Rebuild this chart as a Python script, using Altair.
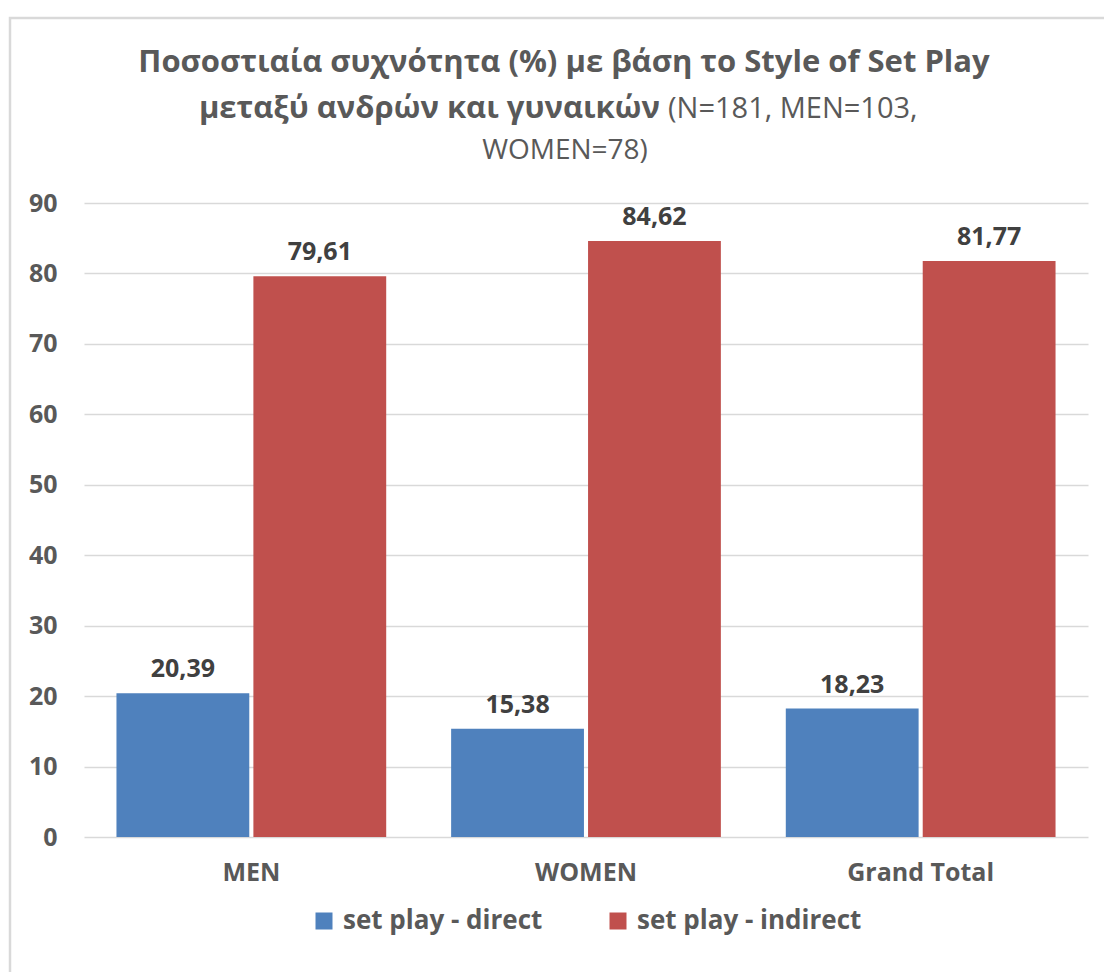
import altair as alt
import pandas as pd

categories = ["MEN", "WOMEN", "Grand Total"]
series = ["set play - direct", "set play - indirect"]
direct = [20.39, 15.38, 18.23]
indirect = [79.61, 84.62, 81.77]
direct_labels = ["20,39", "15,38", "18,23"]
indirect_labels = ["79,61", "84,62", "81,77"]
y_ticks = [0, 10, 20, 30, 40, 50, 60, 70, 80, 90]
colors = ["#4F81BD", "#C0504D"]

title_line1 = "Ποσοστιαία συχνότητα (%) με βάση το Style of Set Play"
title_line2_bold = "μεταξύ ανδρών και γυναικών"
title_line2_reg = "(N=181, MEN=103,"
title_line3 = "WOMEN=78)"

FONT = "Open Sans"
GREY = "#595959"

rows = []
for i, c in enumerate(categories):
    rows.append({"category": c, "series": series[0], "value": direct[i], "label": direct_labels[i]})
    rows.append({"category": c, "series": series[1], "value": indirect[i], "label": indirect_labels[i]})
df = pd.DataFrame(rows)

x_enc = alt.X(
    "category:N",
    sort=categories,
    scale=alt.Scale(paddingInner=0.194, paddingOuter=0.097),
    axis=alt.Axis(
        title=None, labelAngle=0, labelFont=FONT, labelFontSize=25,
        labelFontWeight="bold", labelColor=GREY, labelPadding=23,
        ticks=False, domain=False, grid=False,
    ),
)
xoff_enc = alt.XOffset("series:N", sort=series, scale=alt.Scale(paddingInner=0.03))
y_enc = alt.Y(
    "value:Q",
    scale=alt.Scale(domain=[0, 90], nice=False),
    axis=alt.Axis(
        values=y_ticks, title=None, labelFont=FONT, labelFontSize=25,
        labelFontWeight="bold", labelColor=GREY, labelPadding=27,
        ticks=False, domain=False, grid=True, gridColor="#D9D9D9", gridWidth=1.5,
    ),
)

bars = alt.Chart(df).mark_bar().encode(
    x=x_enc,
    xOffset=xoff_enc,
    y=y_enc,
    color=alt.Color(
        "series:N",
        sort=series,
        scale=alt.Scale(domain=series, range=colors),
        legend=alt.Legend(
            title=None, orient="none", legendX=227, legendY=705,
            direction="horizontal", columns=2, columnPadding=62,
            symbolType="square", symbolSize=289, symbolStrokeWidth=0,
            labelFont=FONT, labelFontSize=26, labelFontWeight="bold",
            labelColor=GREY, labelOffset=6, padding=0, labelLimit=400,
        ),
    ),
)

labels = alt.Chart(df).mark_text(
    baseline="bottom", dy=-11, font=FONT, fontSize=25, fontWeight="bold", color="#404040"
).encode(x=x_enc, xOffset=xoff_enc, y=y_enc, text="label:N")

one = pd.DataFrame({"k": [0]})

t1 = alt.Chart(one).mark_text(
    font=FONT, fontSize=31, fontWeight="bold", color=GREY, align="center", baseline="middle"
).encode(x=alt.value(480), y=alt.value(-140), text=alt.value(title_line1))
t2a = alt.Chart(one).mark_text(
    font=FONT, fontSize=31, fontWeight="bold", color=GREY, align="right", baseline="middle"
).encode(x=alt.value(576), y=alt.value(-94), text=alt.value(title_line2_bold))
t2b = alt.Chart(one).mark_text(
    font=FONT, fontSize=29, fontWeight="normal", color=GREY, align="left", baseline="middle"
).encode(x=alt.value(584), y=alt.value(-94), text=alt.value(title_line2_reg))
t3 = alt.Chart(one).mark_text(
    font=FONT, fontSize=28, fontWeight="normal", color=GREY, align="center", baseline="middle"
).encode(x=alt.value(481), y=alt.value(-52), text=alt.value(title_line3))

frame = alt.Chart(one).mark_rect(filled=False, stroke="#D9D9D9", strokeWidth=2.5).encode(
    x=alt.value(-74), y=alt.value(-185), x2=alt.value(1030), y2=alt.value(780)
)

chart = alt.layer(frame, bars, labels, t1, t2a, t2b, t3).properties(
    width=1004,
    height=634,
    padding={"left": 84, "top": 203, "right": 16, "bottom": 135},
    autosize=alt.AutoSizeParams(type="none"),
    background="white",
).configure_view(strokeWidth=0)

chart.save("out.html", embed_options={"renderer": "svg", "actions": False})
